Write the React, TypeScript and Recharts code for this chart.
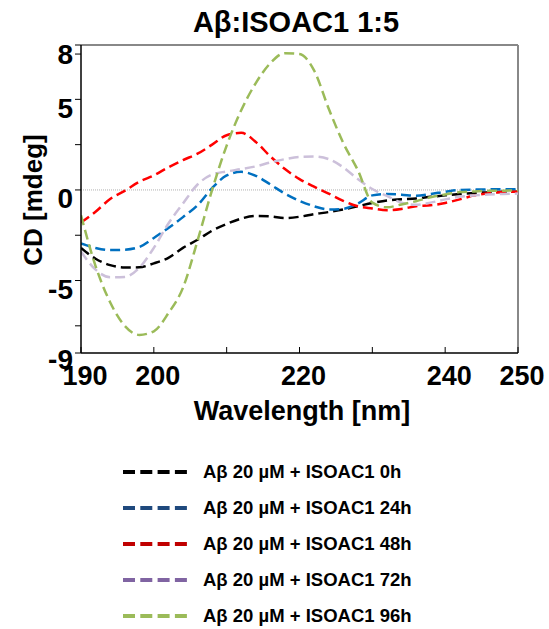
import { LineChart, Line, XAxis, YAxis, ReferenceLine } from 'recharts'

const wavelengths = [190, 192, 194, 196, 198, 200, 202, 204, 206, 208, 210, 212, 214, 216, 218, 220, 222, 224, 226, 228, 230, 232, 234, 236, 238, 240, 242, 244, 246, 248, 250]

const cd0h = [-3.2, -3.8, -4.15, -4.28, -4.27, -4.05, -3.75, -3.2, -2.75, -2.25, -1.88, -1.58, -1.44, -1.46, -1.55, -1.48, -1.34, -1.22, -1.08, -0.9, -0.72, -0.58, -0.52, -0.47, -0.38, -0.3, -0.23, -0.17, -0.13, -0.1, -0.1]
const cd24h = [-2.95, -3.2, -3.32, -3.3, -3.15, -2.65, -2.1, -1.5, -0.85, 0.1, 0.8, 1.0, 0.78, 0.3, -0.2, -0.6, -0.9, -1.08, -1.05, -0.75, -0.3, -0.22, -0.26, -0.32, -0.22, -0.1, 0.0, 0.02, 0.03, 0.04, 0.04]
const cd48h = [-1.8, -1.2, -0.5, -0.05, 0.45, 0.8, 1.25, 1.65, 2.0, 2.5, 3.02, 3.15, 2.65, 1.85, 1.15, 0.6, 0.18, -0.2, -0.6, -0.9, -1.02, -1.12, -1.05, -0.9, -0.85, -0.72, -0.52, -0.3, -0.18, -0.12, -0.1]
const cd72h = [-3.4, -4.4, -4.82, -4.8, -4.3, -3.2, -1.85, -0.75, 0.3, 0.85, 1.02, 1.15, 1.3, 1.52, 1.7, 1.82, 1.84, 1.7, 1.25, 0.6, 0.05, -0.33, -0.7, -0.82, -0.7, -0.52, -0.38, -0.3, -0.25, -0.22, -0.2]
const cd96h = [-1.4, -4.2, -6.2, -7.5, -8.0, -7.8, -6.8, -5.4, -2.8, 0.0, 2.45, 4.4, 5.9, 7.0, 7.55, 7.5, 6.6, 4.5, 2.6, 1.1, -0.7, -0.96, -0.8, -0.62, -0.4, -0.25, -0.12, -0.08, -0.05, -0.04, -0.03]

const seriesKeys = ['h0', 'h24', 'h48', 'h72', 'h96']
const seriesValues = [cd0h, cd24h, cd48h, cd72h, cd96h]
const seriesNames = [
  'Aβ 20 µM + ISOAC1 0h',
  'Aβ 20 µM + ISOAC1 24h',
  'Aβ 20 µM + ISOAC1 48h',
  'Aβ 20 µM + ISOAC1 72h',
  'Aβ 20 µM + ISOAC1 96h',
]
const lineColors = ['#000000', '#0070c0', '#ff0000', '#ccc0da', '#9bbb59']
const legendColors = ['#000000', '#1f497d', '#c00000', '#8064a2', '#9bbb59']

const xTicks = [190, 200, 210, 220, 230, 240, 250]
const xTickLabels = ['190', '200', '', '220', '', '240', '250']
const yTicks = [-9, -7.5, -5, -2.5, 0, 2.5, 5, 7.5, 8]
const yLabelValues = [8, 5, 0, -5, -9]

const data = wavelengths.map((wl, i) => {
  const row: Record<string, number> = { wl }
  seriesKeys.forEach((k, s) => {
    row[k] = seriesValues[s][i]
  })
  return row
})

const font = '"Liberation Sans", Arial, sans-serif'

function XTick(props: any) {
  const { x, y, payload } = props
  const idx = xTicks.indexOf(payload.value)
  return (
    <g>
      <line x1={x} x2={x} y1={y - 6} y2={y} stroke="#000" strokeWidth={1} />
      <text x={x + 4} y={y + 23} textAnchor="middle" dominantBaseline="central" fontSize={27} fontWeight="bold" fill="#000">
        {idx >= 0 ? xTickLabels[idx] : ''}
      </text>
    </g>
  )
}

function YTick(props: any) {
  const { x, y, payload } = props
  const show = yLabelValues.includes(payload.value)
  // the bottom label sits a little higher so it only touches the "190" below
  const dy = payload.value === -9 ? 6 : 9
  return (
    <g>
      <line x1={x - 6} x2={x} y1={y} y2={y} stroke="#000" strokeWidth={1} />
      {show && (
        <text x={x - 8} y={y + dy} textAnchor="end" dominantBaseline="central" fontSize={28} fontWeight="bold" fill="#000">
          {String(payload.value)}
        </text>
      )}
    </g>
  )
}

export default function App() {
  return (
    <div style={{ position: 'absolute', left: 0, top: 0, width: 549, height: 629, background: '#fff', fontFamily: font }}>
      <div style={{ position: 'absolute', left: 0, width: 592, top: 5, textAlign: 'center', fontSize: 29, fontWeight: 'bold', lineHeight: '34px' }}>
        Aβ:ISOAC1 1:5
      </div>
      <div
        style={{
          position: 'absolute',
          left: 33,
          top: 200,
          transform: 'translate(-50%, -50%) rotate(-90deg)',
          fontSize: 26,
          fontWeight: 'bold',
          whiteSpace: 'nowrap',
        }}
      >
        CD [mdeg]
      </div>
      <div style={{ position: 'absolute', left: 0, width: 604, top: 395, textAlign: 'center', fontSize: 27, fontWeight: 'bold', lineHeight: '32px' }}>
        Wavelength [nm]
      </div>
      <div style={{ position: 'absolute', left: 0, top: 0 }}>
        <LineChart width={549} height={400} data={data} margin={{ top: 45, right: 31, bottom: 17, left: 21 }}>
          <XAxis
            dataKey="wl"
            type="number"
            domain={[190, 250]}
            ticks={xTicks}
            tick={<XTick />}
            tickSize={0}
            tickMargin={0}
            tickLine={false}
            axisLine={{ stroke: '#000', strokeWidth: 1.5 }}
            height={30}
            allowDataOverflow
          />
          <YAxis
            type="number"
            domain={[-9, 8]}
            ticks={yTicks}
            tick={<YTick />}
            tickSize={0}
            tickMargin={0}
            tickLine={false}
            axisLine={{ stroke: '#000', strokeWidth: 1.5 }}
            width={60}
            allowDataOverflow
            interval={0}
          />
          <ReferenceLine y={0} stroke="#b0b0b0" strokeDasharray="1 1" strokeWidth={1} />
          <ReferenceLine y={8} stroke="#888" strokeWidth={2} />
          <ReferenceLine x={250} stroke="#888" strokeWidth={2} />
          {seriesKeys.map((k, i) => (
            <Line
              key={k}
              dataKey={k}
              type="monotone"
              stroke={lineColors[i]}
              strokeWidth={2.5}
              strokeDasharray="10 5"
              dot={false}
              isAnimationActive={false}
            />
          ))}
        </LineChart>
      </div>
      <div style={{ position: 'absolute', left: 123, top: 454 }}>
        {seriesNames.map((name, i) => (
          <div key={name} style={{ display: 'flex', alignItems: 'center', height: 36 }}>
            <svg width={64} height={8} style={{ display: 'block' }}>
              <line x1={0} x2={64} y1={4} y2={4} stroke={legendColors[i]} strokeWidth={4} strokeDasharray="12 5.3" />
            </svg>
            <span style={{ marginLeft: 16, fontSize: 18.5, fontWeight: 'bold', whiteSpace: 'nowrap' }}>{name}</span>
          </div>
        ))}
      </div>
    </div>
  )
}
